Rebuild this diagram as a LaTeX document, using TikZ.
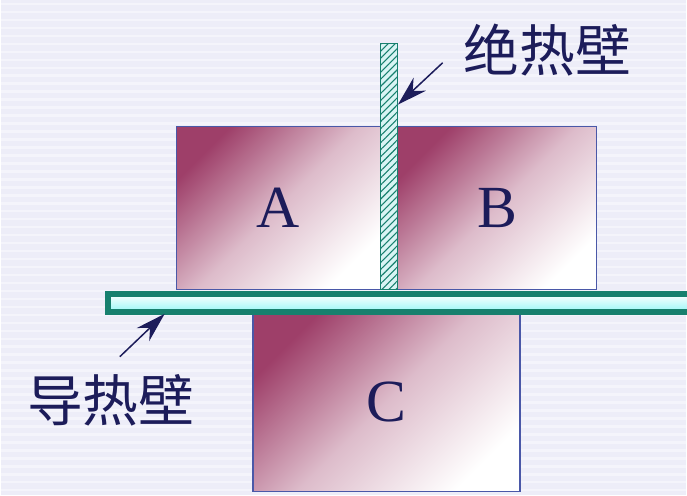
\documentclass[tikz,border=0pt]{standalone}
\usepackage{fontspec}
\usepackage{tikz}
\usetikzlibrary{arrows.meta,patterns.meta}
\newfontfamily\cjk{Noto Sans CJK SC}
\newfontfamily\latinser{Liberation Serif}
\definecolor{bgpaper}{HTML}{EDEDF8}
\definecolor{bgline}{HTML}{F4F4FB}
\definecolor{boxred}{HTML}{9E3F69}
\definecolor{boxedge}{HTML}{4A58A8}
\definecolor{wallteal}{HTML}{17806E}
\definecolor{wallcyan}{HTML}{D8F4F4}
\definecolor{inkblue}{HTML}{1C1C5A}

\begin{document}
\begin{tikzpicture}[x=1pt, y=-1pt,
  block/.style={rectangle, draw=boxedge, line width=1.2pt, shading=axis,
                top color=boxred, bottom color=white, middle color=boxred!35!white,
                shading angle=45, anchor=north west, inner sep=0pt,
                font=\latinser\fontsize{60}{60}\selectfont, text=inkblue},
  adwall/.style={rectangle, draw=wallteal, line width=1.2pt, anchor=north west,
                 preaction={fill=wallcyan},
                 pattern={Lines[angle=45, distance=5pt, line width=1.1pt]},
                 pattern color=wallteal, inner sep=0pt},
  condwall/.style={rectangle, draw=wallteal, line width=6pt, anchor=north west,
                   top color=white, bottom color=wallcyan!70!cyan, inner sep=0pt},
  walllabel/.style={font=\cjk\fontsize{56}{60}\selectfont, text=inkblue},
  pointer/.style={draw=inkblue, fill=inkblue, line width=1.5pt,
                  arrows={-Stealth[length=30pt, width=18pt]}},
]
  % paper background with faint stripes
  \fill[bgpaper] (0,0) rectangle (687,497);
  \foreach \yy in {4,12,...,496}
    \draw[bgline, line width=2.5pt] (0,\yy) -- (687,\yy);
  \useasboundingbox (0,0) rectangle (687,497);

  % the three bodies
  \node[block, minimum width=205pt, minimum height=164pt] (boxA) at (175,126) {A};
  \node[block, minimum width=200pt, minimum height=164pt] (boxB) at (397,126) {B};
  \node[block, minimum width=268pt, minimum height=180pt] (boxC) at (252,313) {C};

  % walls
  \node[adwall, minimum width=17pt, minimum height=247pt] (wallAd) at (380,43) {};
  \node[condwall, minimum width=595pt, minimum height=18pt] (wallCond) at (104,292) {};

  % labels
  \node[walllabel] (labAd) at (548,50) {绝热壁};
  \node[walllabel] (labCond) at (110,402) {导热壁};

  \coordinate (adTail) at (443,63);
  \coordinate (adTip) at ([yshift=-62pt]wallAd.north east);
  \coordinate (condTail) at (119,358);
  \coordinate (condTip) at (164,315);
  \draw[pointer] (adTail) -- (adTip);
  \draw[pointer] (condTail) -- (condTip);
\end{tikzpicture}
\end{document}
